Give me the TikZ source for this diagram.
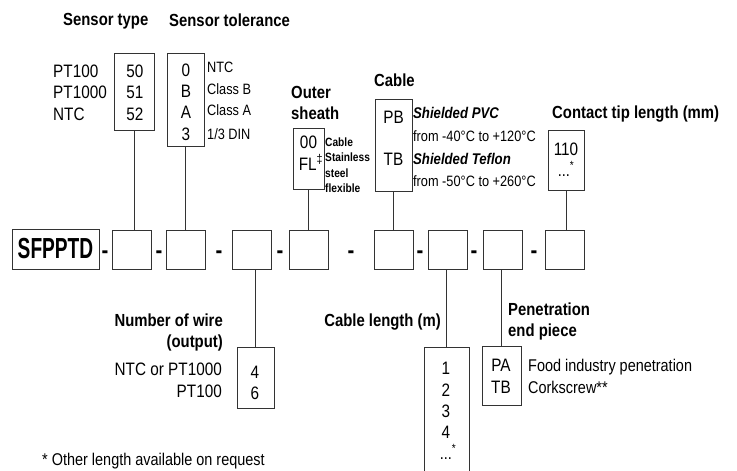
\documentclass[tikz,border=0pt]{standalone}
\usepackage{fontspec}
\setmainfont{Liberation Sans}[FakeStretch=0.85]
\newfontfamily\codefont{Liberation Sans}[FakeStretch=0.66]
\usepackage{tikz}
\usetikzlibrary{calc,positioning}

\begin{document}
\begin{tikzpicture}[x=1pt, y=-1pt,
optbox/.style={draw=black!80, line width=0.8pt, inner sep=0pt},
slot/.style={optbox, minimum width=39pt, minimum height=39pt},
link/.style={draw=black!80, line width=0.8pt},
head/.style={font=\fontsize{17.5}{21}\selectfont\bfseries, inner sep=0pt},
val/.style={font=\fontsize{18}{21}\selectfont, inner sep=0pt},
desc/.style={font=\fontsize{17}{21}\selectfont, inner sep=0pt},
note/.style={font=\fontsize{15}{18}\selectfont, inner sep=0pt},
spec/.style={font=\fontsize{15.5}{18}\selectfont\bfseries\itshape, inner sep=0pt},
tag/.style={font=\fontsize{12}{14}\selectfont\bfseries, inner sep=0pt},
sepmark/.style={font=\fontsize{24}{24}\selectfont\bfseries, inner sep=0pt}]

\useasboundingbox (0,0) rectangle (737,471);

%% local variables
\def \rowy {249.5}

%% order code and its slots
\node[optbox, minimum width=87pt, minimum height=40pt,
      font=\codefont\fontsize{29}{29}\selectfont\bfseries] (code) at (55.5,249) {SFPPTD};
\foreach \n/\x in {1/131.5, 2/185.5, 3/252, 4/308.5, 5/394, 6/447.5, 7/502.5, 8/565}
      \node[slot] (S-\n) at (\x,\rowy) {};
\foreach \x [count=\i] in {105,159,219,280,351,420,474,534}
      \node[sepmark, anchor=base] (D-\i) at (\x,258.5) {-};

%% sensor type
\node[head, anchor=base west] (type-h) at (63,25) {Sensor type};
\node[optbox, minimum width=40pt, minimum height=77pt] (type) at (134,91.5) {};
\foreach \y/\v/\t [count=\i] in {77/50/PT100, 98.5/51/PT1000, 120/52/NTC} {
      \node[val, anchor=base] (type-v\i) at (135,\y) {\v};
      \node[val, anchor=base west] (type-t\i) at (53,\y) {\t};
}

%% sensor tolerance
\node[head, anchor=base west] (tol-h) at (169,26.5) {Sensor tolerance};
\node[optbox, minimum width=37pt, minimum height=93pt] (tol) at (185.5,99.5) {};
\foreach \y/\v [count=\i] in {76/0, 97.5/B, 118.5/A, 140/3}
      \node[val, anchor=base] (tol-v\i) at (186,\y) {\v};
\foreach \y/\t [count=\i] in {72/NTC, 94/Class B, 115.5/Class A, 139/{1/3 DIN}}
      \node[note, anchor=base west] (tol-t\i) at (207,\y) {\t};

%% outer sheath
\node[head, anchor=base west] (sheath-h1) at (291,98) {Outer};
\node[head, anchor=base west] (sheath-h2) at (291,119) {sheath};
\node[optbox, minimum width=31pt, minimum height=61pt] (sheath) at (308.5,158.5) {};
\node[val, anchor=base] (sheath-v1) at (308.5,148) {00};
\node[val, anchor=base] (sheath-v2) at (311,170) {FL\textsuperscript{‡}};
\foreach \y/\t [count=\i] in {146/Cable, 161.5/Stainless, 177/steel, 192/flexible}
      \node[tag, anchor=base west] (sheath-t\i) at (325,\y) {\t};

%% cable
\node[head, anchor=base west] (cable-h) at (374,86.5) {Cable};
\node[optbox, minimum width=37pt, minimum height=92pt] (cable) at (393.5,145) {};
\node[val, anchor=base] (cable-v1) at (393.5,123) {PB};
\node[val, anchor=base] (cable-v2) at (393.5,165) {TB};
\node[spec, anchor=base west] (cable-t1) at (413,118) {Shielded PVC};
\node[note, anchor=base west] (cable-t2) at (413,141.5) {from -40°C to +120°C};
\node[spec, anchor=base west] (cable-t3) at (413,164) {Shielded Teflon};
\node[note, anchor=base west] (cable-t4) at (413,186.5) {from -50°C to +260°C};

%% contact tip length
\node[head, anchor=base west] (tip-h) at (552,118) {Contact tip length (mm)};
\node[optbox, minimum width=36pt, minimum height=60pt] (tip) at (566,160) {};
\node[val, anchor=base] (tip-v1) at (566,155) {110};
\node[desc, anchor=base] (tip-v2) at (566,176) {...\textsuperscript{*}};

%% number of wire
\node[head, anchor=base east] (wire-h1) at (223,326.5) {Number of wire};
\node[head, anchor=base east] (wire-h2) at (223,347.5) {(output)};
\node[optbox, minimum width=37pt, minimum height=61pt] (wire) at (255.5,377.5) {};
\foreach \y/\v/\t [count=\i] in {378/4/NTC or PT1000, 399.5/6/PT100} {
      \node[val, anchor=base] (wire-v\i) at (255,\y) {\v};
      \node[val, anchor=base east] (wire-t\i) at (222,{\y-2.5}) {\t};
}

%% cable length
\node[head, anchor=base east] (len-h) at (441,326.5) {Cable length (m)};
\node[optbox, minimum width=45pt, minimum height=140pt, anchor=north] (len) at (446.5,347) {};
\foreach \y/\v [count=\i] in {374/1, 396/2, 417.5/3, 438.5/4}
      \node[val, anchor=base] (len-v\i) at (446,\y) {\v};
\node[desc, anchor=base] (len-v5) at (448,459) {...\textsuperscript{*}};

%% penetration end piece
\node[head, anchor=base west] (pen-h1) at (508,315) {Penetration};
\node[head, anchor=base west] (pen-h2) at (508,336.5) {end piece};
\node[optbox, minimum width=39pt, minimum height=59pt] (pen) at (501.5,375.5) {};
\foreach \y/\v/\t [count=\i] in {371.5/PA/Food industry penetration, 393/TB/Corkscrew**} {
      \node[val, anchor=base] (pen-v\i) at (501,\y) {\v};
      \node[desc, anchor=base west] (pen-t\i) at (528,\y) {\t};
}

%% footnote
\node[desc, anchor=base west] (foot) at (42,465.5) {* Other length available on request};

%% connectors
\foreach \o/\s in {type/1, tol/2, sheath/4, cable/5, tip/8}
      \draw[link] (\o.south) -- (\o.south |- S-\s.north);
\foreach \o/\s in {wire/3, len/6, pen/7}
      \draw[link] (\o.north) -- (\o.north |- S-\s.south);

\end{tikzpicture}
\end{document}
